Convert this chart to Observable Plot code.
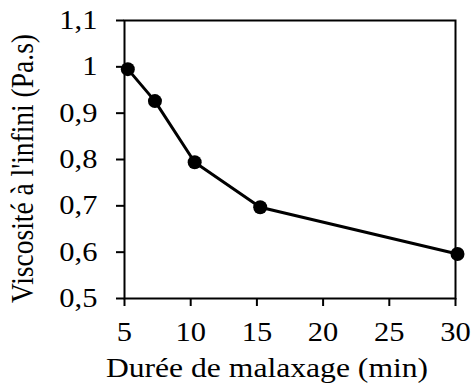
<!DOCTYPE html>
<html>
<head>
<meta charset="utf-8">
<script src="https://cdn.jsdelivr.net/npm/d3@7"></script>
<script src="https://cdn.jsdelivr.net/npm/@observablehq/plot@0.6"></script>
<style>
  html, body { margin: 0; padding: 0; background: #fff; font-family: "Liberation Serif", serif; }
  svg { display: block; }
  svg, svg g, svg text { font-family: "Liberation Serif", "Times New Roman", Times, serif !important; }
</style>
</head>
<body>
<div id="chart"></div>
<script>
const duree = [5.25, 7.3, 10.3, 15.25, 30.15];
const viscosite = [0.995, 0.926, 0.794, 0.697, 0.596];
const xTicks = [5, 10, 15, 20, 25, 30];
const yTicks = [0.5, 0.6, 0.7, 0.8, 0.9, 1.0, 1.1];
const xLabel = "Durée de malaxage (min)";
const yLabel = "Viscosité à l'infini (Pa.s)";
const STRETCH = 1.13;

const data = duree.map((d, i) => ({x: d, y: viscosite[i]}));
const fr = v => String(+v.toFixed(1)).replace(".", ",");

const chart = Plot.plot({
  width: 474,
  height: 384,
  marginLeft: 124,
  marginRight: 19,
  marginTop: 20,
  marginBottom: 86,
  style: {fontSize: "27px", color: "#000", background: "#fff", overflow: "visible"},
  x: {domain: [5, 30]},
  y: {domain: [0.5, 1.1]},
  marks: [
    Plot.frame({stroke: "#000", strokeWidth: 2}),
    Plot.axisX({ticks: xTicks, tickSize: 8, tickPadding: 15, strokeWidth: 2, fontSize: 27, tickFormat: d => String(d), label: null}),
    Plot.axisY({ticks: yTicks, tickSize: 8, tickPadding: 19, strokeWidth: 2, fontSize: 27, tickFormat: fr, label: null}),
    Plot.text([xLabel], {frameAnchor: "bottom", textAnchor: "middle", lineAnchor: "middle", dx: -23, dy: 70, fontSize: 28, fill: "#000"}),
    Plot.text([yLabel], {frameAnchor: "left", textAnchor: "middle", lineAnchor: "middle", rotate: -90, dx: -101, dy: 9, fontSize: 27.5, fill: "#000"}),
    Plot.line(data, {x: "x", y: "y", stroke: "#000", strokeWidth: 3}),
    Plot.dot(data, {x: "x", y: "y", r: 7, fill: "#000", stroke: "none"})
  ]
});
// horizontal stretch of the glyphs about each text's anchor, as in the reference image
const num = s => (s != null && /^-?[\d.]+(e-?\d+)?$/.test(s.trim())) ? +s : 0;
d3.select(chart).selectAll("text").each(function() {
  this.setAttribute("font-family", "Liberation Serif");
  this.style.setProperty("font-family", "'Liberation Serif', 'Times New Roman', serif", "important");
  const T = this.getAttribute("transform") || "";
  let tx = num(this.getAttribute("x")), ty = num(this.getAttribute("y"));
  const m = /translate\(\s*([-\d.e]+)[\s,]+([-\d.e]+)\s*\)/.exec(T);
  if (m) { tx = +m[1]; ty = +m[2]; }
  if (!isFinite(tx) || !isFinite(ty)) return;
  this.setAttribute("transform", `translate(${tx},${ty}) scale(${STRETCH},1) translate(${-tx},${-ty}) ${T}`);
});
document.getElementById("chart").appendChild(chart);
</script>
</body>
</html>
